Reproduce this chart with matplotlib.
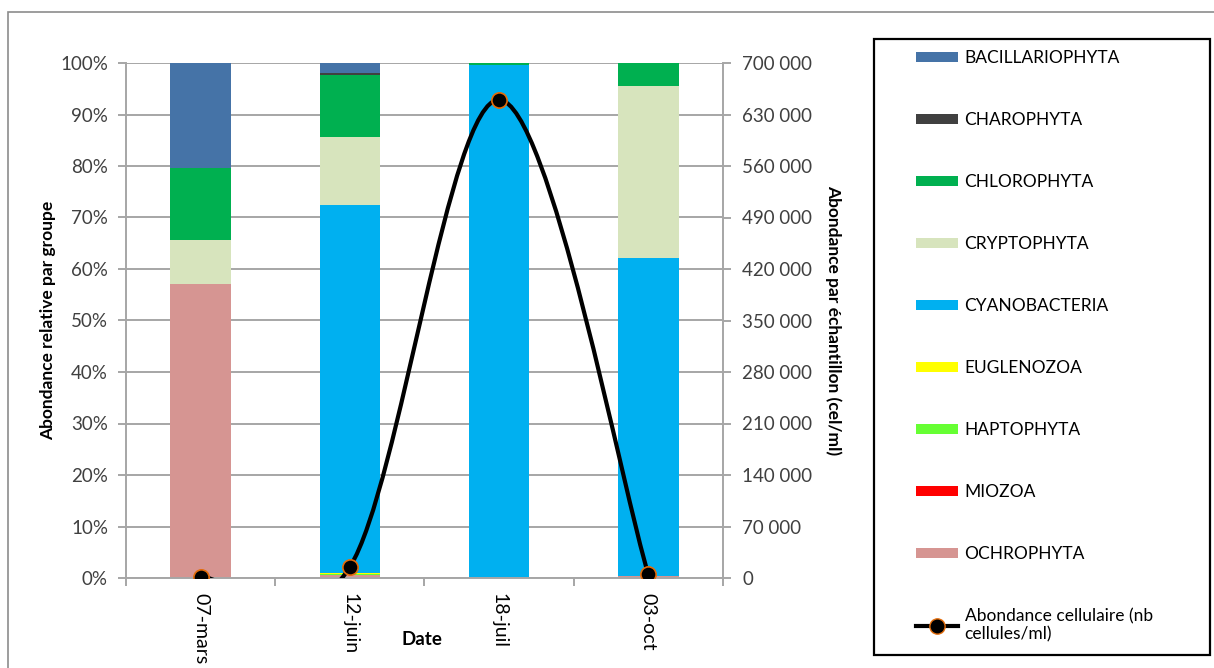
import numpy as np
import matplotlib
matplotlib.use("Agg")
import matplotlib.pyplot as plt
from matplotlib.patches import Patch, Rectangle, PathPatch
from matplotlib.lines import Line2D
from matplotlib.path import Path
from matplotlib.ticker import FuncFormatter, MultipleLocator, FixedLocator

plt.rcParams["font.family"] = ["Lato", "DejaVu Sans"]

# --------------------------------------------
# Data
# --------------------------------------------

dates = ["07-mars", "12-juin", "18-juil", "03-oct"]

# stacked from bottom to top
groups = ["OCHROPHYTA", "MIOZOA", "HAPTOPHYTA", "EUGLENOZOA", "CYANOBACTERIA",
          "CRYPTOPHYTA", "CHLOROPHYTA", "CHAROPHYTA", "BACILLARIOPHYTA"]

colors = ["#D69592", "#FF0000", "#66FF33", "#FFFF00", "#00B0F0",
          "#D7E4BD", "#00B050", "#404040", "#4573A7"]

ochrophyta      = [57.1, 0.5, 0.0, 0.3]
miozoa          = [0.0, 0.0, 0.0, 0.0]
haptophyta      = [0.0, 0.3, 0.0, 0.0]
euglenozoa      = [0.0, 0.1, 0.0, 0.0]
cyanobacteria   = [0.0, 71.5, 99.7, 61.8]
cryptophyta     = [8.5, 13.2, 0.0, 33.4]
chlorophyta     = [14.0, 12.1, 0.3, 4.5]
charophyta      = [0.0, 0.3, 0.0, 0.0]
bacillariophyta = [20.4, 2.0, 0.0, 0.0]

series = [ochrophyta, miozoa, haptophyta, euglenozoa, cyanobacteria,
          cryptophyta, chlorophyta, charophyta, bacillariophyta]

abondance = [1500, 15000, 650000, 5000]

tick_col = "#404040"
grid_col = "#A6A6A6"

# --------------------------------------------
# Figure
# --------------------------------------------

fig = plt.figure(figsize=(12.14, 6.68), dpi=100)
ax = fig.add_axes([126 / 1214, 90 / 668, 597 / 1214, 515 / 668])
ax2 = ax.twinx()

x = np.arange(len(dates))
bottom = np.zeros(len(dates))
for name, vals, c in zip(groups, series, colors):
    v = np.array(vals) / 100
    ax.bar(x, v, width=0.405, bottom=bottom, color=c, zorder=2)
    bottom += v

ax.set_xlim(-0.5, 3.5)
ax.set_ylim(0, 1)
ax.yaxis.set_major_locator(MultipleLocator(0.1))
ax.yaxis.set_major_formatter(FuncFormatter(lambda v, p: "%d%%" % round(v * 100)))
ax.grid(axis="y", color=grid_col, linewidth=1.4, zorder=0)
ax.set_axisbelow(True)

ax.set_xticks(x)
ax.set_xticklabels(dates, rotation=-90, fontsize=14, color="black")
ax.xaxis.set_minor_locator(FixedLocator([-0.5, 0.5, 1.5, 2.5, 3.5]))
ax.tick_params(axis="x", which="major", length=0, pad=11)
ax.tick_params(axis="x", which="minor", length=6, color=grid_col, width=1.4)
ax.tick_params(axis="y", length=6, color=grid_col, width=1.4, labelsize=13.5,
               labelcolor=tick_col, pad=7)

ax.spines["top"].set_visible(False)
ax2.spines["top"].set_visible(False)
for sp in [ax.spines["left"], ax.spines["bottom"], ax2.spines["right"]]:
    sp.set_color(grid_col)
    sp.set_linewidth(1.4)
ax2.spines["left"].set_visible(False)
ax2.spines["bottom"].set_visible(False)
ax.spines["right"].set_visible(False)

ax.set_ylabel("Abondance relative par groupe", fontsize=12.5, fontweight="bold", labelpad=3)
ax.set_xlabel("Date", fontsize=13.5, fontweight="bold")
ax.xaxis.set_label_coords(0.496, -0.103)

# --------------------------------------------
# Secondary axis: smoothed line
# --------------------------------------------

ax2.set_ylim(0, 700000)
ax2.yaxis.set_major_locator(MultipleLocator(70000))
ax2.yaxis.set_major_formatter(FuncFormatter(lambda v, p: "{:,.0f}".format(v).replace(",", " ")))
ax2.tick_params(axis="y", length=6, color=grid_col, width=1.4, labelsize=13.5,
                labelcolor=tick_col, pad=8)
ax2.set_ylabel("Abondance par échantillon (cel/ml)", fontsize=12.5, fontweight="bold",
               rotation=270, labelpad=21)

pts = np.column_stack([x, abondance]).astype(float)
ext = np.vstack([pts[0], pts, pts[-1]])
verts = [tuple(pts[0])]
codes = [Path.MOVETO]
for i in range(len(pts) - 1):
    p0, p1, p2, p3 = ext[i], ext[i + 1], ext[i + 2], ext[i + 3]
    c1 = p1 + (p2 - p0) / 6
    c2 = p2 - (p3 - p1) / 6
    verts += [tuple(c1), tuple(c2), tuple(p2)]
    codes += [Path.CURVE4] * 3
ax2.add_patch(PathPatch(Path(verts, codes), facecolor="none", edgecolor="black",
                        linewidth=3, zorder=3))
ax2.plot(x, abondance, linestyle="none", marker="o", markersize=11,
         markerfacecolor="black", markeredgecolor="#E46C0A", markeredgewidth=1.2, zorder=4)

# --------------------------------------------
# Frames and legend
# --------------------------------------------

fig.patches.append(Rectangle((8 / 1214, -0.1), 1.2, 0.1 + (668 - 12) / 668,
                             transform=fig.transFigure, fill=False,
                             edgecolor="#8C8C8C", linewidth=1.2))
fig.patches.append(Rectangle((874 / 1214, 13 / 668), 336 / 1214, 616 / 668,
                             transform=fig.transFigure, fill=False,
                             edgecolor="black", linewidth=1.6))

handles = [Patch(facecolor=c) for c in colors[::-1]]
labels = groups[::-1]
handles.append(Line2D([], [], color="black", linewidth=3, marker="o", markersize=11,
                      markerfacecolor="black", markeredgecolor="#E46C0A"))
labels.append("Abondance cellulaire (nb\ncellules/ml)")

fig.legend(handles, labels, loc="upper left", bbox_to_anchor=(916 / 1214, (668 - 50) / 668),
           bbox_transform=fig.transFigure, frameon=False, fontsize=12.5,
           borderpad=0, borderaxespad=0, labelspacing=2.65,
           handlelength=2.4, handleheight=0.55, handletextpad=0.4, labelcolor="black")

fig.savefig("out.png", dpi=100)
